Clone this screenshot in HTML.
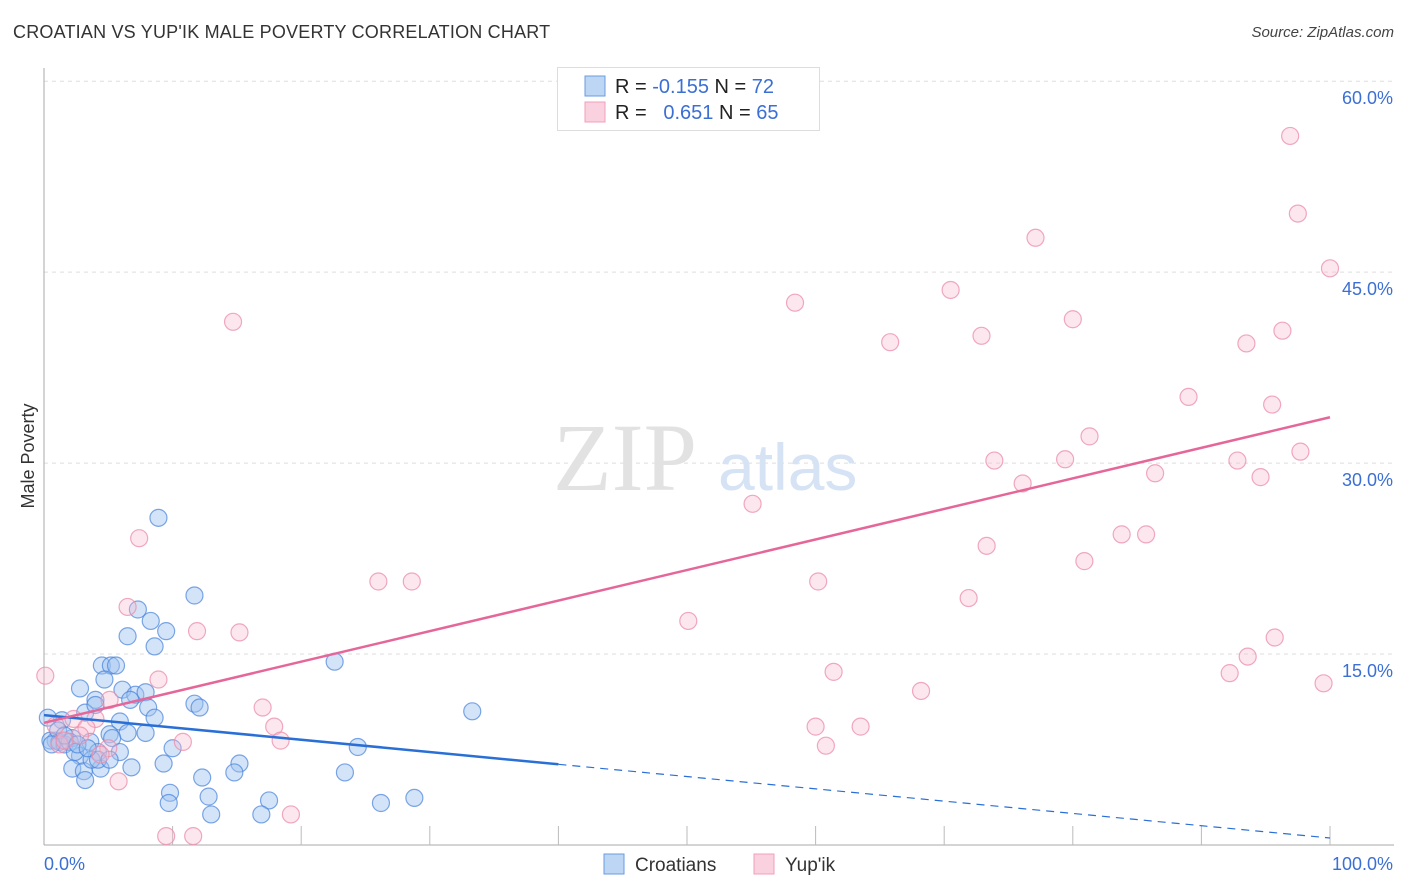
<!DOCTYPE html>
<html><head><meta charset="utf-8">
<style>
body{margin:0;background:#fff;font-family:"Liberation Sans",sans-serif;}
#wrap{position:relative;width:1406px;height:892px;overflow:hidden;}
.t{position:absolute;white-space:nowrap;}
</style></head>
<body>
<div id="wrap">
<div class="t" style="left:13px;top:22px;font-size:18px;color:#333;letter-spacing:0.2px">CROATIAN VS YUP'IK MALE POVERTY CORRELATION CHART</div>
<div class="t" style="right:12px;top:24px;font-size:15px;color:#444;font-style:italic">Source: ZipAtlas.com</div>
<svg id="svg" width="1406" height="892" style="position:absolute;left:0;top:0"></svg>
</div>
<script>
const yTicks=[15,30,45,60];
const yTickLabels=["15.0%","30.0%","45.0%","60.0%"];
const xTickLabels=["0.0%","100.0%"];
const croX=[8.9,11.7,6.5,7.3,8.3,9.5,8.6,4.5,5.2,5.6,4.7,2.8,4.0,6.1,7.1,7.9,8.1,8.6,11.7,12.1,3.2,1.4,0.3,5.9,6.5,5.1,7.9,5.3,2.2,3.6,0.9,0.5,1.2,1.6,2.0,5.9,4.2,2.8,2.4,10.0,9.3,2.2,3.1,4.4,6.8,3.2,3.7,15.2,14.8,12.3,12.8,9.8,9.7,13.0,17.5,16.9,22.6,24.4,23.4,26.2,28.8,33.3,4.2,5.1,1.1,1.6,6.7,4.0,2.6,3.4,0.6];
const croY=[25.7,19.6,16.4,18.5,17.6,16.8,15.6,14.1,14.1,14.1,13.0,12.3,11.4,12.2,11.8,12.0,10.8,10.0,11.1,10.8,10.4,9.8,10.0,9.7,8.8,8.7,8.8,8.4,8.4,8.1,8.2,8.2,8.1,7.9,8.1,7.3,7.3,7.0,7.3,7.6,6.4,6.0,5.8,6.0,6.1,5.1,6.7,6.4,5.7,5.3,3.8,4.1,3.3,2.4,3.5,2.4,14.4,7.7,5.7,3.3,3.7,10.5,6.7,6.7,9.0,8.6,11.4,11.0,7.9,7.6,7.9];
const yupX=[14.7,7.4,6.5,11.9,15.2,8.9,0.1,5.1,4.0,2.3,3.3,5.0,10.8,5.8,17.0,17.9,18.4,19.2,9.5,11.6,26.0,28.6,55.1,50.1,58.4,60.2,61.4,60.0,60.8,63.5,65.8,68.2,70.5,71.9,72.9,73.3,73.9,76.1,77.1,79.4,80.0,80.9,81.3,83.8,85.7,86.4,89.0,92.2,92.8,93.5,93.6,94.6,95.5,95.7,96.3,96.9,97.5,97.7,99.5,100,4.4,1.2,2.8,1.6,0.9];
const yupY=[41.1,24.1,18.7,16.8,16.7,13.0,13.3,11.4,9.9,9.9,9.2,7.6,8.1,5.0,10.8,9.3,8.2,2.4,0.7,0.7,20.7,20.7,26.8,17.6,42.6,20.7,13.6,9.3,7.8,9.3,39.5,12.1,43.6,19.4,40.0,23.5,30.2,28.4,47.7,30.3,41.3,22.3,32.1,24.4,24.4,29.2,35.2,13.5,30.2,39.4,14.8,28.9,34.6,16.3,40.4,55.7,49.6,30.9,12.7,45.3,7.1,7.9,8.6,8.2,9.4];
const croTrend=[10.2,-0.0965]; // intercept, slope
const yupTrend=[9.6,0.24];
const croSolidEnd=40;

const NS="http://www.w3.org/2000/svg";
const svg=document.getElementById('svg');
const X0=44,X1=1330,Y0=845,PY=12.73;
const sx=v=>X0+(X1-X0)*v/100;
const sy=v=>Y0-v*PY;
function mk(tag,attrs){const e=document.createElementNS(NS,tag);for(const k in attrs)e.setAttribute(k,attrs[k]);svg.appendChild(e);return e;}
// gridlines
yTicks.forEach((t,i)=>{
 const g=mk('line',{x1:X0,x2:1394,y1:sy(t),y2:sy(t),stroke:'#ddd','stroke-dasharray':'4,4'});
 
 
 const tx=mk('text',{x:1393,y:sy(t)+23,'text-anchor':'end','font-size':18,fill:'#3b6fd4','font-family':'Liberation Sans, sans-serif'});
 tx.textContent=yTickLabels[i];
 
 
});
// axes
let a=mk('line',{x1:X0,x2:X0,y1:68,y2:Y0,stroke:'#aaa'});


a=mk('line',{x1:X0,x2:1394,y1:Y0,y2:Y0,stroke:'#aaa'});


for(let k=1;k<=10;k++){
 const t=mk('line',{x1:sx(k*10),x2:sx(k*10),y1:826,y2:Y0,stroke:'#bbb'});
 
 
}
[[xTickLabels[0],44,'start'],[xTickLabels[1],1393,'end']].forEach(d=>{
 const t=mk('text',{x:d[1],y:870,'text-anchor':d[2],'font-size':18,fill:'#3b6fd4','font-family':'Liberation Sans, sans-serif'});
 t.textContent=d[0];
 
 
});
// y title
let yt=mk('text',{x:0,y:0,transform:'translate(34,456) rotate(-90)','text-anchor':'middle','font-size':18,fill:'#333','font-family':'Liberation Sans, sans-serif'});
yt.textContent='Male Poverty';


// watermark
let w=mk('text',{x:553,y:490,'font-size':96,fill:'#e2e2e2','font-family':'Liberation Serif, serif'});
w.textContent='ZIP';


w=mk('text',{x:718,y:490,'font-size':66,fill:'#d6e3f5','font-family':'Liberation Sans, sans-serif'});
w.textContent='atlas';


// points
croX.forEach((v,i)=>{
 const big=(v===0);
 const c=mk('circle',{cx:sx(v),cy:sy(croY[i]),r:big?20:8.5,fill:'rgba(160,196,240,0.45)',stroke:'rgba(70,130,220,0.7)','stroke-width':1.2});
 
 
});
yupX.forEach((v,i)=>{
 const c=mk('circle',{cx:sx(v),cy:sy(yupY[i]),r:8.5,fill:'rgba(248,185,205,0.35)',stroke:'rgba(235,140,170,0.75)','stroke-width':1.2});
 
 
});
// trend lines
let l=mk('line',{x1:sx(0),y1:sy(croTrend[0]),x2:sx(croSolidEnd),y2:sy(croTrend[0]+croTrend[1]*croSolidEnd),stroke:'#2a6fd6','stroke-width':2.5});


l=mk('line',{x1:sx(croSolidEnd),y1:sy(croTrend[0]+croTrend[1]*croSolidEnd),x2:sx(100),y2:sy(croTrend[0]+croTrend[1]*100),stroke:'#2a6fd6','stroke-width':1.2,'stroke-dasharray':'8,6'});


l=mk('line',{x1:sx(0),y1:sy(yupTrend[0]),x2:sx(100),y2:sy(yupTrend[0]+yupTrend[1]*100),stroke:'#e5679a','stroke-width':2.5});


// legend box
let lb=mk('rect',{x:557.5,y:67.5,width:262,height:63,fill:'#fff',stroke:'#ddd'});


[[76,'rgba(160,196,240,0.7)','#6a9be0','-0.155','72'],[102,'rgba(248,190,210,0.7)','#f0a0b8',' 0.651','65']].forEach((d,i)=>{
 const r=mk('rect',{x:585,y:d[0],width:20,height:20,fill:d[1],stroke:d[2]});
 
 
 const t=mk('text',{x:615,y:d[0]+17,'font-size':20,fill:'#222','font-family':'Liberation Sans, sans-serif','xml:space':'preserve'});
 t.innerHTML='R = <tspan fill="#3b6fd4">'+(i?'&#160;&#160;0.651':'-0.155')+'</tspan>   N = <tspan fill="#3b6fd4">'+d[4]+'</tspan>';
 
 
});
// bottom legend
[[604,'rgba(160,196,240,0.7)','#6a9be0','Croatians'],[754,'rgba(248,190,210,0.7)','#f0a0b8',"Yup'ik"]].forEach(d=>{
 const r=mk('rect',{x:d[0],y:854,width:20,height:20,fill:d[1],stroke:d[2]});
 
 
 const t=mk('text',{x:d[0]+31,y:871,'font-size':19,fill:'#333','font-family':'Liberation Sans, sans-serif'});
 t.textContent=d[3];
 
 
});
</script>
</body></html>
